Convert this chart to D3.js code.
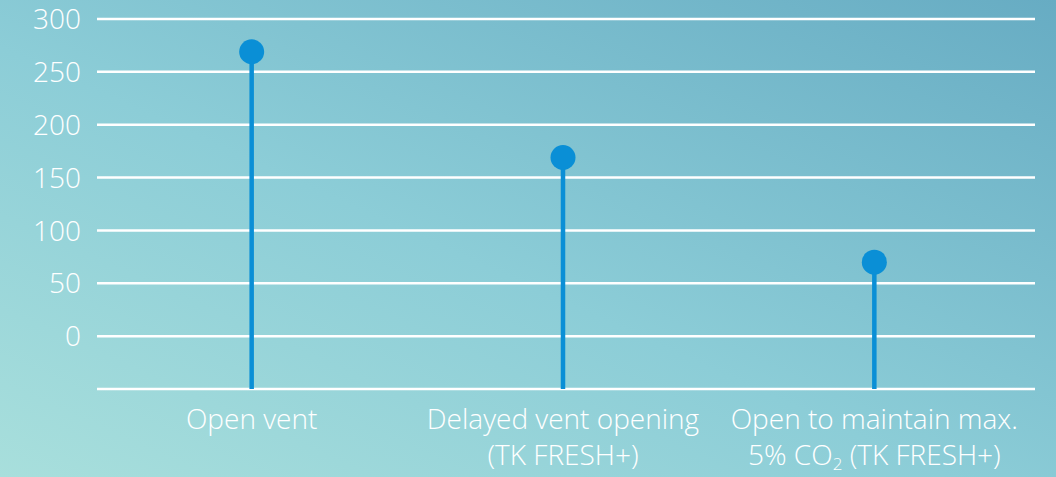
<!DOCTYPE html>
<html lang="en">
<head>
    <meta charset="UTF-8">
    <title>Vent lollipop</title>
    <style>
        body { margin: 0; }
        svg { display: block; }
        text {
            font-family: "Open Sans", "DejaVu Sans", sans-serif;
            font-weight: 300;
            fill: #ffffff;
        }
        .grid line {
            stroke: #ffffff;
            stroke-width: 2.5px;
        }
    </style>
</head>
<body>
<svg id="svg" width="1056" height="477"></svg>
<script src="https://d3js.org/d3.v7.min.js"></script>
<script>
    // data
    const categories = ["Open vent", "Delayed vent opening", "Open to maintain max."];
    const labelSecondLines = ["", "(TK FRESH+)", "5% CO|2| (TK FRESH+)"];
    const values = [269, 169, 70];
    const yTicks = [300, 250, 200, 150, 100, 50, 0];

    const svg = d3.select("svg");
    const width = +svg.attr("width"), height = +svg.attr("height");

    // background gradient
    const defs = svg.append("defs");
    const grad = defs.append("linearGradient").attr("id", "bg")
        .attr("x1", "0%").attr("y1", "100%").attr("x2", "100%").attr("y2", "0%");
    grad.append("stop").attr("offset", "0%").attr("stop-color", "#a8dfdc");
    grad.append("stop").attr("offset", "45%").attr("stop-color", "#8ccdd7");
    grad.append("stop").attr("offset", "100%").attr("stop-color", "#67acc3");
    svg.append("rect").attr("width", width).attr("height", height).attr("fill", "url(#bg)");

    const left = 97, right = 1035;
    const y = d3.scaleLinear().domain([-50, 300]).range([389, 19]);
    const x = d3.scalePoint().domain(categories).range([96, 1030]).padding(0.5);

    // grid lines, incl. the baseline at -50
    const grid = svg.append("g").attr("class", "grid");
    grid.selectAll("line")
        .data(yTicks.concat([-50]))
        .enter().append("line")
        .attr("x1", left).attr("x2", right)
        .attr("y1", d => y(d)).attr("y2", d => y(d));

    // y tick labels
    svg.append("g").selectAll("text")
        .data(yTicks)
        .enter().append("text")
        .attr("x", 81)
        .attr("y", d => y(d))
        .attr("dy", "0.36em")
        .attr("text-anchor", "end")
        .style("font-size", "28px")
        .text(d => d);

    // lollipops
    const pops = svg.append("g").selectAll("g")
        .data(values)
        .enter().append("g");

    pops.append("line")
        .attr("x1", (d, i) => x(categories[i]))
        .attr("x2", (d, i) => x(categories[i]))
        .attr("y1", y(-50))
        .attr("y2", d => y(d))
        .attr("stroke", "#0a8fd6")
        .attr("stroke-width", 4.5);

    pops.append("circle")
        .attr("cx", (d, i) => x(categories[i]))
        .attr("cy", d => y(d))
        .attr("r", 12.5)
        .attr("fill", "#0a8fd6");

    // category labels
    const labels = svg.append("g").selectAll("text")
        .data(categories)
        .enter().append("text")
        .attr("text-anchor", "middle")
        .attr("x", d => x(d))
        .attr("y", 429)
        .style("font-size", "28px");

    labels.append("tspan").text(d => d);

    labels.each(function(d, i) {
        const line2 = labelSecondLines[i];
        if (!line2) return;
        const parts = line2.split("|");
        const t = d3.select(this);
        parts.forEach(function(p, k) {
            const ts = t.append("tspan").text(p);
            if (k === 0) ts.attr("x", x(d)).attr("dy", 36);
            if (k === 1) ts.attr("dy", 5).style("font-size", "17px");
            if (k === 2) ts.attr("dy", -5);
        });
    });
</script>
</body>
</html>
